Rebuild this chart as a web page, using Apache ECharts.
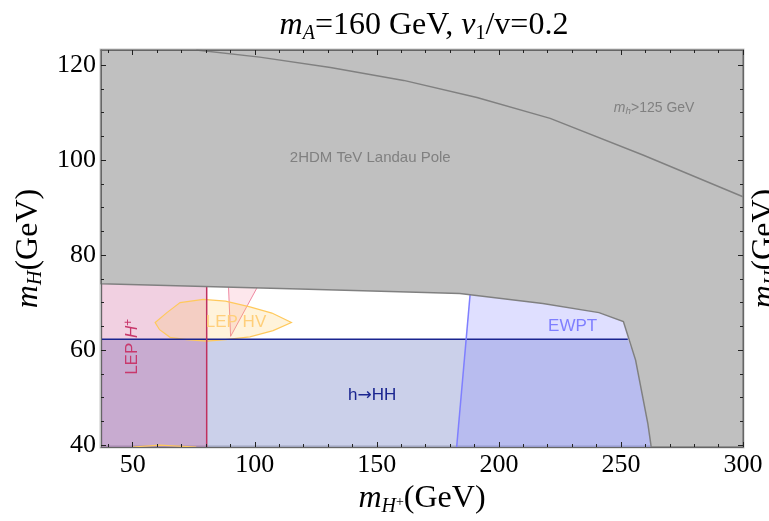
<!DOCTYPE html>
<html>
<head>
<meta charset="utf-8">
<script src="https://cdn.jsdelivr.net/npm/echarts@6/dist/echarts.min.js"></script>
<style>
html, body { margin: 0; background: #fff; }
#chart { width: 769px; height: 521px; }
</style>
</head>
<body>
<div id="chart"></div>
<script>
// axis ranges and ticks
var xMin = 37, xMax = 300, yMin = 39.6, yMax = 123.2;
var xMajor = [50, 100, 150, 200, 250, 300];
var xMinor = [40, 60, 70, 80, 90, 110, 120, 130, 140, 160, 170, 180, 190, 210, 220, 230, 240, 260, 270, 280, 290];
var yMajor = [40, 60, 80, 100, 120];
var yMinor = [45, 50, 55, 65, 70, 75, 85, 90, 95, 105, 110, 115];

// region boundaries, (m_H+, m_H) in GeV
var landauEdge = [[37, 74.0], [122, 72.8], [159, 72.3], [184, 71.9], [218, 69.8], [241, 67.9], [251, 66.0], [256, 57.9], [261, 44.6], [262.4, 39.6]];
var landauArea = landauEdge.concat([[300, 39.6], [300, 123.2], [37, 123.2]]);
var mh125 = [[76, 123.2], [102, 121.7], [131, 119.5], [161, 116.8], [191, 113.2], [221, 108.8], [259, 101.1], [300, 92.3]];
var hHHLine = [[37, 62.3], [252.8, 62.3]];
var hHHArea = [[37, 39.6], [37, 62.3], [252.8, 62.3], [256, 57.9], [261, 44.6], [262.4, 39.6]];
var lepChArea = [[37, 39.6], [37, 74.0], [80.3, 74.0], [80.3, 39.6]];
var lepChLine = [[80.3, 39.6], [80.3, 73.4]];
var lepWedge = [[89.2, 73.6], [101.2, 73.4], [90.1, 62.9]];
var lepHVArea = [[59.2, 65.8], [64, 67.9], [69.4, 70.0], [78.9, 70.7], [88, 70.3], [98, 69.1], [107, 67.8], [115, 65.8], [107.5, 64.1], [98, 62.8], [88, 62.2], [80.3, 61.9], [72, 62.2], [65.3, 62.7], [61, 64.3]];
var lepHVBottom = [[50, 39.6], [61, 40.0], [76, 39.6]];
var ewptArea = [[182.7, 39.6], [188.2, 71.7], [218, 69.8], [241, 67.9], [251, 66.0], [256, 57.9], [261, 44.6], [262.4, 39.6]];
var ewptEdge = [[182.7, 39.6], [188.2, 71.7]];

// in-plot labels
var labelText = ['2HDM TeV Landau Pole', '{i|m}{s|h}>125 GeV', 'LEP HV', 'EWPT', 'h{a|\u2192}HH', 'LEP {i|H}{p|+}'];
var labelPos = [[147.3, 100.4], [263.6, 111.0], [92.3, 65.9], [230.2, 65.1], [148.1, 50.5], [49.8, 60.7]];

var labelColor = ['#808080', '#808080', '#ffcf7a', '#7f7fff', '#1a2590', '#c8386c'];
var labelSize = [15, 14, 17, 17, 17, 17];
var labelRot = [0, 0, 0, 0, 0, Math.PI / 2];

var chart = echarts.init(document.getElementById('chart'));

function polygon(pts, fill, stroke, lw, z) {
    return {
        type: 'custom', coordinateSystem: 'cartesian2d', silent: true, z: z,
        data: [[150, 60]],
        renderItem: function (params, api) {
            return {
                type: 'polygon',
                shape: { points: pts.map(function (p) { return api.coord(p); }) },
                style: { fill: fill, stroke: stroke || null, lineWidth: lw || 0 }
            };
        }
    };
}

function line(pts, color, w, z) {
    return {
        type: 'line', data: pts, showSymbol: false, silent: true, z: z,
        lineStyle: { color: color, width: w }
    };
}

var serif = 'Liberation Serif';
var nameRich = {
    i: { fontFamily: serif, fontStyle: 'italic', fontSize: 32, color: '#000' },
    s: { fontFamily: serif, fontStyle: 'italic', fontSize: 20, color: '#000', padding: [16, 0, 0, 0] },
    p: { fontFamily: serif, fontSize: 14, color: '#000', padding: [6, 0, 0, 0] }
};
var nameStyle = { fontFamily: serif, fontSize: 32, color: '#000', rich: nameRich };

function xAx(pos, ticks, len, labels, extra) {
    return Object.assign({
        type: 'value', position: pos, min: xMin, max: xMax, offset: 0, z: 10,
        axisLine: { show: true, lineStyle: { color: '#666', width: 1 } },
        axisTick: { show: true, inside: true, length: len, customValues: ticks, lineStyle: { color: '#222' } },
        axisLabel: labels ? { show: true, customValues: ticks, fontFamily: serif, fontSize: 26, color: '#000', margin: 5 } : { show: false },
        splitLine: { show: false }
    }, extra || {});
}
function yAx(pos, ticks, len, labels, extra) {
    return Object.assign({
        type: 'value', position: pos, min: yMin, max: yMax, offset: 0, z: 10,
        axisLine: { show: true, lineStyle: { color: '#666', width: 1 } },
        axisTick: { show: true, inside: true, length: len, customValues: ticks, lineStyle: { color: '#222' } },
        axisLabel: labels ? { show: true, customValues: ticks, fontFamily: serif, fontSize: 26, color: '#000', margin: 5 } : { show: false },
        splitLine: { show: false }
    }, extra || {});
}

var option = {
    animation: false,
    backgroundColor: '#fff',
    grid: {
        left: 101, right: 26, top: 50, bottom: 74, outerBoundsMode: 'none', containLabel: false,
        show: true, borderColor: '#c8c8c8', borderWidth: 3
    },
    graphic: [{
        type: 'text', x: 424, y: 26, silent: true,
        style: {
            text: '{i|m}{si|A}=160 GeV, {i|v}{s|1}/v=0.2',
            fontFamily: serif, fontSize: 32, fill: '#000', align: 'center', verticalAlign: 'middle',
            rich: {
                i: { fontFamily: serif, fontStyle: 'italic', fontSize: 32 },
                si: { fontFamily: serif, fontStyle: 'italic', fontSize: 20, padding: [15, 0, 0, 0] },
                s: { fontFamily: serif, fontSize: 20, padding: [15, 0, 0, 0] }
            }
        }
    }],
    xAxis: [
        xAx('bottom', xMajor, 5, true, {
            name: '{i|m}{s|H}{p|+}(GeV)', nameLocation: 'middle', nameGap: 24, nameTextStyle: nameStyle
        }),
        xAx('bottom', xMinor, 3, false, { axisLine: { show: false } }),
        xAx('top', xMajor, 5, false),
        xAx('top', xMinor, 3, false, { axisLine: { show: false } })
    ],
    yAxis: [
        yAx('left', yMajor, 5, true, {
            name: '{i|m}{s|H}(GeV)', nameLocation: 'middle', nameGap: 46, nameRotate: 90, nameTextStyle: nameStyle
        }),
        yAx('left', yMinor, 3, false, { axisLine: { show: false } }),
        yAx('right', yMajor, 5, false, {
            name: '{i|m}{s|H}(GeV)', nameLocation: 'middle', nameGap: 4, nameRotate: 90, nameTextStyle: nameStyle
        }),
        yAx('right', yMinor, 3, false, { axisLine: { show: false } })
    ],
    series: [
        polygon(hHHArea, 'rgba(47,67,171,0.25)', null, 0, 1),
        polygon(lepChArea, 'rgba(190,40,120,0.22)', null, 0, 2),
        polygon(ewptArea, 'rgba(128,128,255,0.25)', null, 0, 2),
        polygon(lepWedge, 'rgba(245,120,150,0.18)', 'rgba(235,110,140,0.8)', 1, 3),
        polygon(lepHVArea, 'rgba(255,200,90,0.22)', '#ffc95c', 1.2, 3),
        line(lepHVBottom, '#ffc95c', 1.2, 3),
        line(hHHLine, '#1a2590', 1.5, 4),
        line(lepChLine, '#c0305e', 1.5, 4),
        line(ewptEdge, '#7f7fff', 1.5, 4),
        polygon(landauArea, '#c0c0c0', '#808080', 1.5, 5),
        line(mh125, '#808080', 1.5, 6),
        {
            type: 'custom', coordinateSystem: 'cartesian2d', silent: true, z: 8,
            data: labelPos,
            renderItem: function (params, api) {
                var i = params.dataIndex;
                var c = api.coord([api.value(0), api.value(1)]);
                var f = labelSize[i];
                return {
                    type: 'text', x: c[0], y: c[1], rotation: labelRot[i],
                    style: {
                        text: labelText[i], fill: labelColor[i],
                        fontFamily: 'Liberation Sans', fontSize: f,
                        align: 'center', verticalAlign: 'middle',
                        rich: {
                            i: { fontFamily: 'Liberation Sans', fontStyle: 'italic', fontSize: f, fill: labelColor[i] },
                            s: { fontFamily: 'Liberation Sans', fontStyle: 'italic', fontSize: f * 0.7, fill: labelColor[i], padding: [7, 0, 0, 0] },
                            p: { fontFamily: 'Liberation Sans', fontSize: f * 0.7, fill: labelColor[i], padding: [0, 0, 7, 0] },
                            a: { fontFamily: 'DejaVu Sans', fontSize: f, fill: labelColor[i] }
                        }
                    }
                };
            }
        }
    ]
};

chart.setOption(option);
</script>
</body>
</html>
